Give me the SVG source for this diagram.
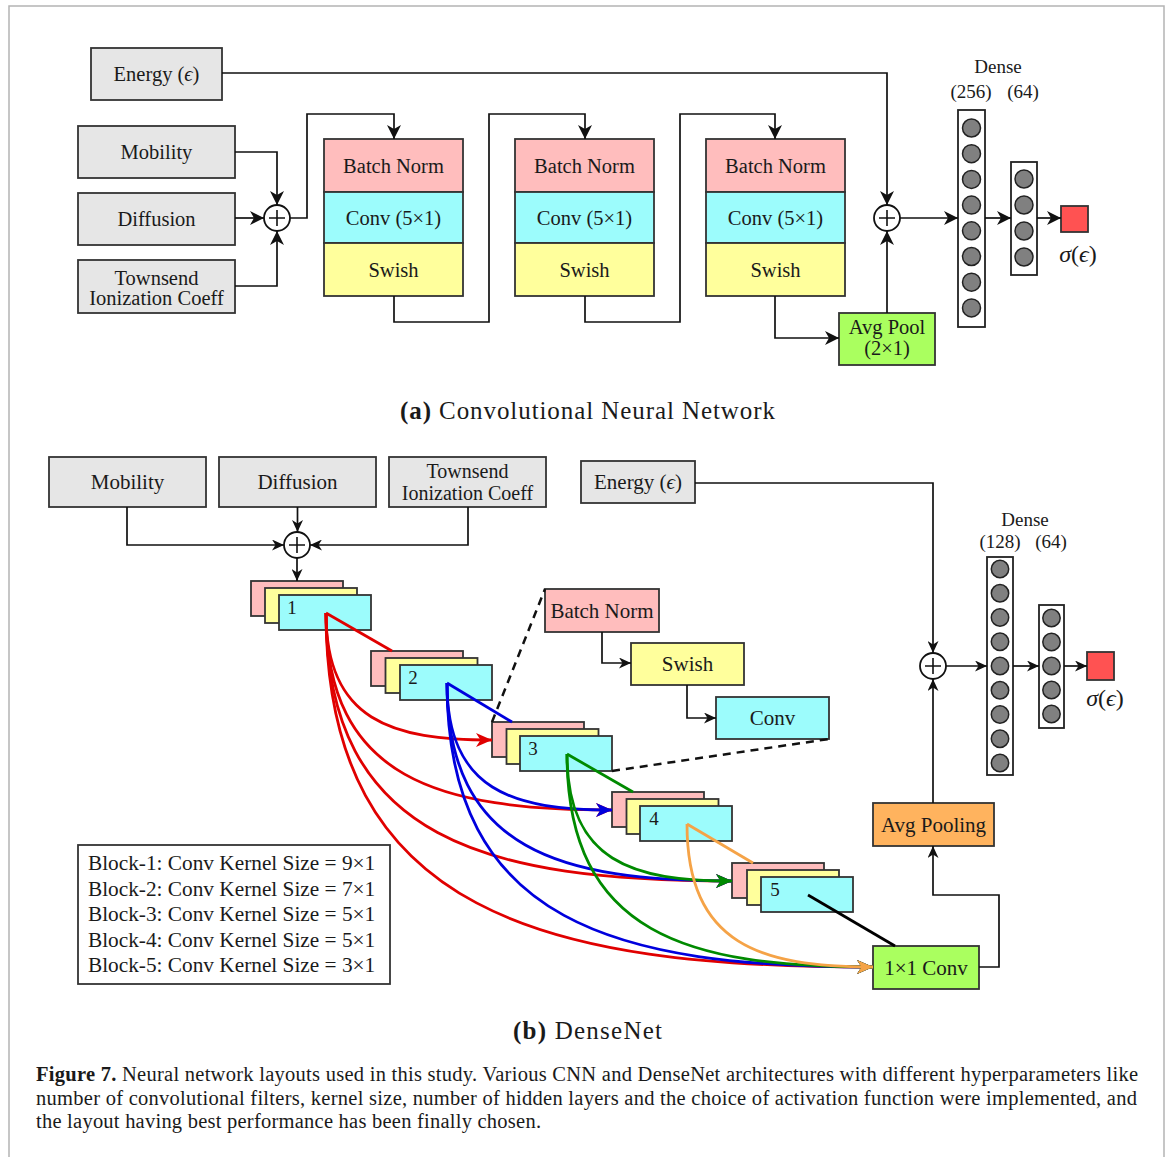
<svg xmlns="http://www.w3.org/2000/svg" width="1171" height="1157" viewBox="0 0 1171 1157">
<defs>
<style>
.box{stroke:#333;stroke-width:1.8}
.gray{fill:#e6e6e6}
.pink{fill:#ffbdbd}
.cyan{fill:#9cfcfc}
.yellow{fill:#ffff9c}
.green{fill:#aaff5f}
.orange{fill:#ffb35e}
.red{fill:#ff5252}
.t{font-family:"Liberation Serif","DejaVu Serif",serif;fill:#1a1a1a;text-anchor:middle}
.ta{font-size:20.5px}
.tb{font-size:21px}
.conn{fill:none;stroke:#111;stroke-width:1.7}
.neuron{fill:#808080;stroke:#222;stroke-width:1.5}
.col{fill:#fff;stroke:#222;stroke-width:1.8}
.sum{fill:#fff;stroke:#111;stroke-width:1.8}
.plus{stroke:#111;stroke-width:1.6}
.cv{fill:none;stroke-width:2.8}
.dash{fill:none;stroke:#111;stroke-width:2.5;stroke-dasharray:8 6}
</style>
<marker id="arrA" viewBox="0 0 14 14" refX="14" refY="7" markerWidth="14" markerHeight="14" markerUnits="userSpaceOnUse" orient="auto"><path d="M0,0 L14,7 L0,14 L4,7 z" fill="#111"/></marker>
<marker id="arrB" viewBox="0 0 12 11" refX="12" refY="5.5" markerWidth="12" markerHeight="11" markerUnits="userSpaceOnUse" orient="auto"><path d="M0,0 L12,5.5 L0,11 L3.5,5.5 z" fill="#111"/></marker>
<marker id="arrR" viewBox="0 0 16 14" refX="16" refY="7" markerWidth="16" markerHeight="14" markerUnits="userSpaceOnUse" orient="auto"><path d="M0,0 L16,7 L0,14 L4.5,7 z" fill="#e00000"/></marker>
<marker id="arrU" viewBox="0 0 16 14" refX="16" refY="7" markerWidth="16" markerHeight="14" markerUnits="userSpaceOnUse" orient="auto"><path d="M0,0 L16,7 L0,14 L4.5,7 z" fill="#0000dd"/></marker>
<marker id="arrG" viewBox="0 0 16 14" refX="16" refY="7" markerWidth="16" markerHeight="14" markerUnits="userSpaceOnUse" orient="auto"><path d="M0,0 L16,7 L0,14 L4.5,7 z" fill="#008a00"/></marker>
<marker id="arrO" viewBox="0 0 16 14" refX="16" refY="7" markerWidth="16" markerHeight="14" markerUnits="userSpaceOnUse" orient="auto"><path d="M0,0 L16,7 L0,14 L4.5,7 z" fill="#f5a347"/></marker>
</defs>
<rect x="0" y="0" width="1171" height="1157" fill="#fff"/>
<path d="M9,1157 V6 H1164 V1157" fill="none" stroke="#b4b4b4" stroke-width="1.5"/>

<!-- ===== Part (a) ===== -->
<g id="a-energy"><rect class="box gray" x="91" y="48" width="131" height="52"/><text class="t ta" x="156.5" y="81">Energy (<tspan font-style="italic">ϵ</tspan>)</text></g>
<g id="a-mobility"><rect class="box gray" x="78" y="126" width="157" height="52"/><text class="t ta" x="156.5" y="159">Mobility</text></g>
<g id="a-diffusion"><rect class="box gray" x="78" y="193" width="157" height="52"/><text class="t ta" x="156.5" y="226">Diffusion</text></g>
<g id="a-townsend"><rect class="box gray" x="78" y="260" width="157" height="53"/><text class="t ta" x="156.5" y="285">Townsend</text><text class="t ta" x="156.5" y="305">Ionization Coeff</text></g>
<g id="a-sum1"><circle class="sum" cx="277" cy="218" r="13"/><path class="plus" d="M269,218 H285 M277,210 V226"/></g>
<g id="a-block1"><rect class="box pink" x="324" y="139" width="139" height="53"/><rect class="box cyan" x="324" y="192" width="139" height="51"/><rect class="box yellow" x="324" y="243" width="139" height="53"/><text class="t ta" x="393.5" y="172.5">Batch Norm</text><text class="t ta" x="393.5" y="224.5">Conv (5×1)</text><text class="t ta" x="393.5" y="276.5">Swish</text></g>
<g id="a-block2"><rect class="box pink" x="515" y="139" width="139" height="53"/><rect class="box cyan" x="515" y="192" width="139" height="51"/><rect class="box yellow" x="515" y="243" width="139" height="53"/><text class="t ta" x="584.5" y="172.5">Batch Norm</text><text class="t ta" x="584.5" y="224.5">Conv (5×1)</text><text class="t ta" x="584.5" y="276.5">Swish</text></g>
<g id="a-block3"><rect class="box pink" x="706" y="139" width="139" height="53"/><rect class="box cyan" x="706" y="192" width="139" height="51"/><rect class="box yellow" x="706" y="243" width="139" height="53"/><text class="t ta" x="775.5" y="172.5">Batch Norm</text><text class="t ta" x="775.5" y="224.5">Conv (5×1)</text><text class="t ta" x="775.5" y="276.5">Swish</text></g>
<g id="a-avgpool"><rect class="box green" x="839" y="313" width="96" height="52"/><text class="t ta" x="887" y="334">Avg Pool</text><text class="t ta" x="887" y="355">(2×1)</text></g>
<g id="a-sum2"><circle class="sum" cx="887" cy="218" r="13"/><path class="plus" d="M879,218 H895 M887,210 V226"/></g>
<g id="a-dense1"><rect class="col" x="958" y="110" width="27" height="217"/>
<circle class="neuron" cx="971.5" cy="128" r="9"/><circle class="neuron" cx="971.5" cy="153.7" r="9"/><circle class="neuron" cx="971.5" cy="179.4" r="9"/><circle class="neuron" cx="971.5" cy="205.1" r="9"/><circle class="neuron" cx="971.5" cy="230.8" r="9"/><circle class="neuron" cx="971.5" cy="256.5" r="9"/><circle class="neuron" cx="971.5" cy="282.2" r="9"/><circle class="neuron" cx="971.5" cy="307.9" r="9"/></g>
<g id="a-dense2"><rect class="col" x="1011" y="162" width="26" height="113"/>
<circle class="neuron" cx="1024" cy="179" r="9"/><circle class="neuron" cx="1024" cy="205" r="9"/><circle class="neuron" cx="1024" cy="231" r="9"/><circle class="neuron" cx="1024" cy="257" r="9"/></g>
<g id="a-output"><rect class="box red" x="1061" y="206" width="27" height="26"/><text class="t" font-size="24" x="1078" y="262"><tspan font-style="italic">σ</tspan>(<tspan font-style="italic">ϵ</tspan>)</text></g>
<g id="a-labels"><text class="t" font-size="19" x="998" y="73">Dense</text><text class="t" font-size="19" x="971" y="98">(256)</text><text class="t" font-size="19" x="1023" y="98">(64)</text></g>
<text class="t" font-size="25" x="400" y="419" style="text-anchor:start" textLength="375" lengthAdjust="spacing"><tspan font-weight="bold">(a)</tspan> Convolutional Neural Network</text>

<!-- ===== Part (b) ===== -->
<g id="b-mobility"><rect class="box gray" x="49" y="457" width="157" height="50"/><text class="t tb" x="127.5" y="489">Mobility</text></g>
<g id="b-diffusion"><rect class="box gray" x="219" y="457" width="157" height="50"/><text class="t tb" x="297.5" y="489">Diffusion</text></g>
<g id="b-townsend"><rect class="box gray" x="389" y="457" width="157" height="50"/><text class="t" font-size="20" x="467.5" y="478">Townsend</text><text class="t" font-size="20" x="467.5" y="500">Ionization Coeff</text></g>
<g id="b-energy"><rect class="box gray" x="581" y="461" width="114" height="42"/><text class="t tb" x="638" y="489">Energy (<tspan font-style="italic">ϵ</tspan>)</text></g>
<g id="b-sum1"><circle class="sum" cx="297" cy="545" r="13"/><path class="plus" d="M289,545 H305 M297,537 V553"/></g>
<g id="b-block1"><rect class="box pink" x="251" y="581" width="92" height="35"/><rect class="box yellow" x="265" y="588" width="92" height="35"/><rect class="box cyan" x="279" y="595" width="92" height="35"/><text class="t" font-size="19" x="292" y="614">1</text></g>
<g id="b-block2"><rect class="box pink" x="371" y="651" width="92" height="35"/><rect class="box yellow" x="385.5" y="658" width="92" height="35"/><rect class="box cyan" x="400" y="665" width="92" height="35"/><text class="t" font-size="19" x="413" y="684">2</text></g>
<g id="b-block3"><rect class="box pink" x="492" y="722" width="92" height="35"/><rect class="box yellow" x="506.5" y="729" width="92" height="35"/><rect class="box cyan" x="520" y="736" width="92" height="35"/><text class="t" font-size="19" x="533" y="755">3</text></g>
<g id="b-block4"><rect class="box pink" x="612" y="792" width="92" height="35"/><rect class="box yellow" x="626.5" y="799" width="92" height="35"/><rect class="box cyan" x="640" y="806" width="92" height="35"/><text class="t" font-size="19" x="654" y="825">4</text></g>
<g id="b-block5"><rect class="box pink" x="732" y="863" width="92" height="35"/><rect class="box yellow" x="747" y="870" width="92" height="35"/><rect class="box cyan" x="761" y="877" width="92" height="35"/><text class="t" font-size="19" x="775" y="896">5</text></g>
<g id="b-inset-bn"><rect class="box pink" x="545" y="589" width="114" height="43"/><text class="t tb" x="602" y="618">Batch Norm</text></g>
<g id="b-inset-swish"><rect class="box yellow" x="631" y="643" width="113" height="42"/><text class="t tb" x="687.5" y="671">Swish</text></g>
<g id="b-inset-conv"><rect class="box cyan" x="716" y="697" width="113" height="42"/><text class="t tb" x="772.5" y="725">Conv</text></g>
<g id="b-legend"><rect x="78" y="845" width="312" height="139" fill="#fff" stroke="#333" stroke-width="1.8"/>
<text class="t" font-size="21.3" x="88" y="870" style="text-anchor:start">Block-1: Conv Kernel Size = 9×1</text>
<text class="t" font-size="21.3" x="88" y="895.5" style="text-anchor:start">Block-2: Conv Kernel Size = 7×1</text>
<text class="t" font-size="21.3" x="88" y="921" style="text-anchor:start">Block-3: Conv Kernel Size = 5×1</text>
<text class="t" font-size="21.3" x="88" y="946.5" style="text-anchor:start">Block-4: Conv Kernel Size = 5×1</text>
<text class="t" font-size="21.3" x="88" y="972" style="text-anchor:start">Block-5: Conv Kernel Size = 3×1</text></g>
<g id="b-conv1x1"><rect class="box green" x="873" y="946" width="106" height="43"/><text class="t tb" x="926" y="975">1×1 Conv</text></g>
<g id="b-avgpool"><rect class="box orange" x="873" y="803" width="121" height="43"/><text class="t tb" x="933.5" y="832">Avg Pooling</text></g>
<g id="b-sum2"><circle class="sum" cx="933" cy="666" r="13"/><path class="plus" d="M925,666 H941 M933,658 V674"/></g>
<g id="b-dense1"><rect class="col" x="987" y="557" width="26" height="218"/>
<circle class="neuron" cx="1000" cy="569" r="8.7"/><circle class="neuron" cx="1000" cy="593.25" r="8.7"/><circle class="neuron" cx="1000" cy="617.5" r="8.7"/><circle class="neuron" cx="1000" cy="641.75" r="8.7"/><circle class="neuron" cx="1000" cy="666" r="8.7"/><circle class="neuron" cx="1000" cy="690.25" r="8.7"/><circle class="neuron" cx="1000" cy="714.5" r="8.7"/><circle class="neuron" cx="1000" cy="738.75" r="8.7"/><circle class="neuron" cx="1000" cy="763" r="8.7"/></g>
<g id="b-dense2"><rect class="col" x="1039" y="605" width="25" height="123"/>
<circle class="neuron" cx="1051.5" cy="618" r="8.7"/><circle class="neuron" cx="1051.5" cy="642" r="8.7"/><circle class="neuron" cx="1051.5" cy="666" r="8.7"/><circle class="neuron" cx="1051.5" cy="690" r="8.7"/><circle class="neuron" cx="1051.5" cy="714" r="8.7"/></g>
<g id="b-output"><rect class="box red" x="1087" y="652" width="27" height="28"/><text class="t" font-size="24" x="1105" y="706"><tspan font-style="italic">σ</tspan>(<tspan font-style="italic">ϵ</tspan>)</text></g>
<g id="b-labels"><text class="t" font-size="19" x="1025" y="526">Dense</text><text class="t" font-size="19" x="1000" y="548">(128)</text><text class="t" font-size="19" x="1051" y="548">(64)</text></g>
<text class="t" font-size="25" x="513" y="1039" style="text-anchor:start" textLength="149" lengthAdjust="spacing"><tspan font-weight="bold">(b)</tspan> DenseNet</text>

<!-- ===== Connectors ===== -->
<g id="connectors">
<!-- part a -->
<path class="conn" d="M235,152 H277 V205" marker-end="url(#arrA)"/>
<path class="conn" d="M235,218 H264" marker-end="url(#arrA)"/>
<path class="conn" d="M235,286 H277 V231" marker-end="url(#arrA)"/>
<path class="conn" d="M290,218 H307 V114 H394 V139" marker-end="url(#arrA)"/>
<path class="conn" d="M394,296 V322 H489 V114 H585 V139" marker-end="url(#arrA)"/>
<path class="conn" d="M585,296 V322 H680 V114 H775 V139" marker-end="url(#arrA)"/>
<path class="conn" d="M775,296 V338 H839" marker-end="url(#arrA)"/>
<path class="conn" d="M887,313 V231" marker-end="url(#arrA)"/>
<path class="conn" d="M222,73 H887 V205" marker-end="url(#arrA)"/>
<path class="conn" d="M900,218 H958" marker-end="url(#arrA)"/>
<path class="conn" d="M985,218 H1011" marker-end="url(#arrA)"/>
<path class="conn" d="M1037,218 H1061" marker-end="url(#arrA)"/>
<!-- part b -->
<path class="conn" d="M127,507 V545 H284" marker-end="url(#arrB)"/>
<path class="conn" d="M297.5,507 V532" marker-end="url(#arrB)"/>
<path class="conn" d="M468,507 V545 H310" marker-end="url(#arrB)"/>
<path class="conn" d="M297,558 V581" marker-end="url(#arrB)"/>
<path class="conn" d="M695,483 H933 V653" marker-end="url(#arrB)"/>
<path class="conn" d="M933,803 V679" marker-end="url(#arrB)"/>
<path class="conn" d="M979,967 H999 V895 H933 V846" marker-end="url(#arrB)"/>
<path class="conn" d="M946,666 H987" marker-end="url(#arrB)"/>
<path class="conn" d="M1013,666 H1039" marker-end="url(#arrB)"/>
<path class="conn" d="M1064,666 H1087" marker-end="url(#arrB)"/>
<path class="conn" d="M602,632 V663 H631" marker-end="url(#arrB)"/>
<path class="conn" d="M687,685 V718 H716" marker-end="url(#arrB)"/>
<path class="dash" d="M492,722 L545,589"/>
<path class="dash" d="M612,771 L829,739"/>
<!-- red -->
<g stroke="#e00000" class="cv">
<path d="M326,613 L392,651"/>
<path d="M326,613 C326,721 392,740 492,740" marker-end="url(#arrR)"/>
<path d="M326,613 C326,780 440,810 612,810" marker-end="url(#arrR)"/>
<path d="M326,613 C326,841 488,881 732,881" marker-end="url(#arrR)"/>
<path d="M326,613 C326,914 545,967 873,967" marker-end="url(#arrR)"/>
</g>
<!-- blue -->
<g stroke="#0000dd" class="cv">
<path d="M447,683 L512,722"/>
<path d="M447,683 C447,791 513,810 612,810" marker-end="url(#arrU)"/>
<path d="M447,683 C447,851 561,881 732,881" marker-end="url(#arrU)"/>
<path d="M447,683 C447,924 617,967 873,967" marker-end="url(#arrU)"/>
</g>
<!-- green -->
<g stroke="#008a00" class="cv">
<path d="M567,754 L633,792"/>
<path d="M567,754 C567,862 633,881 732,881" marker-end="url(#arrG)"/>
<path d="M567,754 C567,935 689,967 873,967" marker-end="url(#arrG)"/>
</g>
<!-- orange -->
<g stroke="#f5a347" class="cv">
<path d="M687,824 L753,863"/>
<path d="M687,824 C687,945 761,967 873,967" marker-end="url(#arrO)"/>
</g>
<path d="M808,895 L895,946" stroke="#000" stroke-width="2.8" fill="none"/>
</g>

<!-- ===== Caption ===== -->
<g id="caption" font-family="'Liberation Serif','DejaVu Serif',serif" font-size="20.5" fill="#1a1a1a">
<text x="36" y="1081" textLength="1102" lengthAdjust="spacing"><tspan font-weight="bold">Figure 7.</tspan> Neural network layouts used in this study. Various CNN and DenseNet architectures with different hyperparameters like</text>
<text x="36" y="1105" textLength="1101" lengthAdjust="spacing">number of convolutional filters, kernel size, number of hidden layers and the choice of activation function were implemented, and</text>
<text x="36" y="1128" textLength="505" lengthAdjust="spacing">the layout having best performance has been finally chosen.</text>
</g>
</svg>
